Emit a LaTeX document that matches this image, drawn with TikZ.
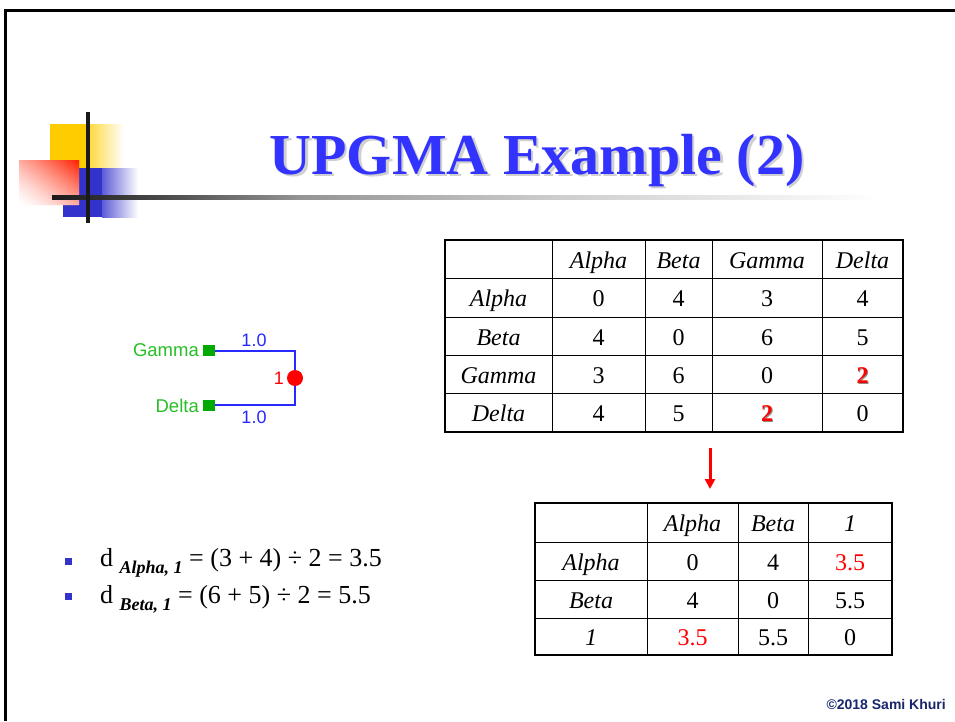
\documentclass[tikz,border=0pt]{standalone}
\usepackage{fontspec}
\setmainfont{Liberation Serif}
\newfontfamily\arial{Liberation Sans}
\usetikzlibrary{arrows.meta}

\definecolor{logoyellow}{RGB}{255,204,0}
\definecolor{logoblue}{RGB}{51,51,204}
\definecolor{logored}{RGB}{255,32,0}
\definecolor{logoink}{RGB}{26,26,26}
\definecolor{titleblue}{RGB}{51,51,255}
\definecolor{treegreen}{RGB}{40,190,40}
\definecolor{sqgreen}{RGB}{0,170,0}
\definecolor{branchblue}{RGB}{40,40,255}
\definecolor{hotred}{RGB}{255,0,0}
\definecolor{footnavy}{RGB}{25,38,110}

% horizontal rule under the heading: dark on the left, fading out to the right
\pgfdeclarehorizontalshading{rulefade}{100bp}{%
  color(0bp)=(logoink); color(25bp)=(logoink); color(32bp)=(black!70);
  color(40bp)=(black!42); color(55bp)=(black!20); color(75bp)=(white);
  color(100bp)=(white)}

\newcommand\subtag[1]{\raisebox{-7pt}{\fontsize{18}{18}\selectfont\bfseries\itshape #1}}

\begin{document}
\begin{tikzpicture}[x=1pt,y=-1pt,
  cell/.style={anchor=base,inner sep=0pt,font=\fontsize{24}{24}\selectfont},
  hcell/.style={cell,font=\fontsize{24}{24}\selectfont\itshape},
  grid/.style={line width=1pt,black},
  border/.style={line width=2.8pt,black},
  gname/.style={anchor=base east,inner sep=0pt,text=treegreen,font=\arial\fontsize{18.5}{18.5}\selectfont},
  leaf/.style={fill=sqgreen,minimum width=12pt,minimum height=11pt,inner sep=0pt},
  branch/.style={line width=2pt,branchblue},
  blen/.style={anchor=base,inner sep=0pt,text=branchblue,font=\arial\fontsize{18}{18}\selectfont},
  bullet/.style={fill=logoblue,minimum size=7.5pt,inner sep=0pt},
  eqline/.style={anchor=base west,inner sep=0pt,font=\fontsize{26}{26}\selectfont},
]
\useasboundingbox (0,0) rectangle (955,721);
\fill[white] (0,0) rectangle (955,721);

% slide frame
\draw[line width=3pt,miter limit=10] (5.5,721) -- (5.5,10) -- (955,10);

% logo
\fill[logoyellow] (50,124) rectangle (89,168);
\shade[left color=logoyellow!75!white,right color=white] (89,124) rectangle (124,168);
\fill[logoblue] (63,168) rectangle (102,217);
\shade[left color=logoblue!80!white,right color=white] (102,168) rectangle (138,217);
% red square: diagonal fade from the upper right corner to white at the lower left
\begin{scope}
  \clip (19,160) rectangle (79,205);
  \fill[white] (19,160) rectangle (79,205);
  \foreach \i in {0,...,49}{
    \pgfmathsetmacro\ua{\i*0.04}
    \pgfmathsetmacro\ub{\ua+0.06}
    \pgfmathsetmacro\pc{100*((\ua+0.02)/2)^1.4}
    \fill[logored!\pc!white] (19+60*\ua,205) -- (19+60*\ub,205)
      -- (19,205-45*\ub) -- (19,205-45*\ua) -- cycle;
  }
\end{scope}
\shade[shading=rulefade] (52,195) rectangle (880,199);
\fill[logoink] (86,112) rectangle (90,223);

% heading
\node[anchor=base,inner sep=0pt,text=black!30,opacity=0.6,
      font=\fontsize{58}{58}\selectfont\bfseries] (titleshadow) at (539.5,176.5) {UPGMA Example (2)};
\node[anchor=base,inner sep=0pt,text=titleblue,
      font=\fontsize{58}{58}\selectfont\bfseries] (title) at (537,174) {UPGMA Example (2)};

% tree
\node[leaf] (gsq) at (209,350.5) {};
\node[leaf] (dsq) at (209,405) {};
\node[gname] (gname) at (199,356) {Gamma};
\node[gname] (dname) at (199,412) {Delta};
\node[circle,fill=hotred,minimum size=16pt,inner sep=0pt] (dot) at (295,378) {};
\draw[branch] (gsq.east) -| (dot.north);
\draw[branch] (dsq.east) -| (dot.south);
\node[blen] (len1) at (254,346) {1.0};
\node[blen] (len2) at (254,423) {1.0};
\node[anchor=base east,inner sep=0pt,text=hotred,font=\arial\fontsize{18}{18}\selectfont] (dotlabel) at (284,384) {1};

% first distance matrix
\foreach \xx in {552,645,712,822} \draw[grid] (\xx,240) -- (\xx,432);
\foreach \yy in {278,317,355,393} \draw[grid] (445,\yy) -- (903,\yy);
\draw[border] (445,240) rectangle (903,432);

\node[hcell] (a-0-1) at (598.5,268) {Alpha};
\node[hcell] (a-0-2) at (678.5,268) {Beta};
\node[hcell] (a-0-3) at (767,268) {Gamma};
\node[hcell] (a-0-4) at (862.5,268) {Delta};

\node[hcell] (a-1-0) at (498.5,306.5) {Alpha};
\node[cell] (a-1-1) at (598.5,306.5) {0};
\node[cell] (a-1-2) at (678.5,306.5) {4};
\node[cell] (a-1-3) at (767,306.5) {3};
\node[cell] (a-1-4) at (862.5,306.5) {4};

\node[hcell] (a-2-0) at (498.5,345) {Beta};
\node[cell] (a-2-1) at (598.5,345) {4};
\node[cell] (a-2-2) at (678.5,345) {0};
\node[cell] (a-2-3) at (767,345) {6};
\node[cell] (a-2-4) at (862.5,345) {5};

\node[hcell] (a-3-0) at (498.5,383) {Gamma};
\node[cell] (a-3-1) at (598.5,383) {3};
\node[cell] (a-3-2) at (678.5,383) {6};
\node[cell] (a-3-3) at (767,383) {0};
\node[cell,text=black!45,font=\fontsize{24}{24}\selectfont\bfseries] (a-3-4s) at (863.7,384.2) {2};
\node[cell,text=hotred,font=\fontsize{24}{24}\selectfont\bfseries] (a-3-4) at (862.5,383) {2};

\node[hcell] (a-4-0) at (498.5,421.5) {Delta};
\node[cell] (a-4-1) at (598.5,421.5) {4};
\node[cell] (a-4-2) at (678.5,421.5) {5};
\node[cell,text=black!45,font=\fontsize{24}{24}\selectfont\bfseries] (a-4-3s) at (768.2,422.7) {2};
\node[cell,text=hotred,font=\fontsize{24}{24}\selectfont\bfseries] (a-4-3) at (767,421.5) {2};
\node[cell] (a-4-4) at (862.5,421.5) {0};

% arrow between the matrices
\coordinate (arrtop) at (710,448);
\coordinate (arrbot) at (710,489);
\draw[hotred,line width=3pt,-{Triangle[width=10pt,length=10pt]}] (arrtop) -- (arrbot);

% second distance matrix
\foreach \xx in {647,738,808} \draw[grid] (\xx,503) -- (\xx,655);
\foreach \yy in {542,580,618} \draw[grid] (535,\yy) -- (892,\yy);
\draw[border] (535,503) rectangle (892,655);

\node[hcell] (b-0-1) at (692.5,531.5) {Alpha};
\node[hcell] (b-0-2) at (773,531.5) {Beta};
\node[hcell] (b-0-3) at (850,531.5) {1};

\node[hcell] (b-1-0) at (591,570) {Alpha};
\node[cell] (b-1-1) at (692.5,570) {0};
\node[cell] (b-1-2) at (773,570) {4};
\node[cell,text=hotred] (b-1-3) at (850,570) {3.5};

\node[hcell] (b-2-0) at (591,608) {Beta};
\node[cell] (b-2-1) at (692.5,608) {4};
\node[cell] (b-2-2) at (773,608) {0};
\node[cell] (b-2-3) at (850,608) {5.5};

\node[hcell] (b-3-0) at (591,645.5) {1};
\node[cell,text=hotred] (b-3-1) at (692.5,645.5) {3.5};
\node[cell] (b-3-2) at (773,645.5) {5.5};
\node[cell] (b-3-3) at (850,645.5) {0};

% bullet points
\node[bullet] (bul1) at (68.5,561.5) {};
\node[bullet] (bul2) at (68.5,596.5) {};
\node[eqline] (eq1) at (100,566) {d \subtag{Alpha, 1} = (3 + 4) ÷ 2 = 3.5};
\node[eqline] (eq2) at (100,603) {d \subtag{Beta, 1} = (6 + 5) ÷ 2 = 5.5};

% footer
\node[anchor=base east,inner sep=0pt,text=footnavy,font=\arial\bfseries\fontsize{14}{14}\selectfont] (foot) at (946,709) {©2018 Sami Khuri};
\end{tikzpicture}
\end{document}
